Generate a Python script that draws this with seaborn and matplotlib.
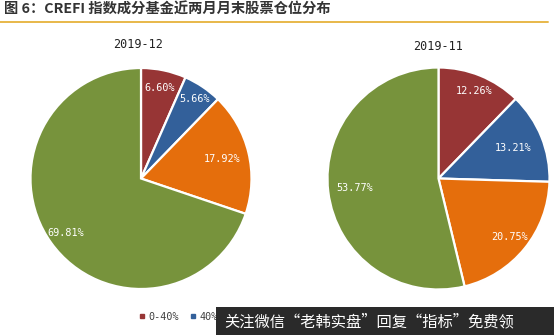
import numpy as np
import matplotlib
matplotlib.use("Agg")
import matplotlib.pyplot as plt
from matplotlib.patches import Rectangle
from matplotlib.lines import Line2D
import seaborn as sns

# Stock-position buckets and month-end fund shares (%)
buckets = ["0-40%", "40%-60%", "60%-80%", "80%-100%"]
months = ["2019-12", "2019-11"]
share_dec = [6.60, 5.66, 17.92, 69.81]
share_nov = [12.26, 13.21, 20.75, 53.77]
title = "图 6：CREFI 指数成分基金近两月月末股票仓位分布"
banner = "关注微信“老韩实盘”回复“指标”免费领"

sns.set_theme(style="white")
plt.rcParams["font.family"] = ["DejaVu Sans Mono", "Noto Sans CJK SC"]

palette = sns.color_palette(["#973535", "#33609A", "#E56E0C", "#77933C"])

W, H = 554, 335
fig = plt.figure(figsize=(W / 100, H / 100), dpi=100)
fig.patch.set_facecolor("white")


def px_axes(cx, cy, r):
    return fig.add_axes([(cx - r) / W, (H - cy - r) / H, 2 * r / W, 2 * r / H])


def draw_pie(ax, values, radii):
    wedges, _ = ax.pie(values, colors=palette, startangle=90, counterclock=False,
                       wedgeprops=dict(edgecolor="white", linewidth=1.6))
    for w, v, rr in zip(wedges, values, radii):
        ang = np.deg2rad((w.theta1 + w.theta2) / 2)
        ax.text(rr * np.cos(ang), rr * np.sin(ang), f"{v:.2f}%",
                ha="center", va="center", color="white", fontsize=7.3)
    ax.set_xlim(-1, 1)
    ax.set_ylim(-1, 1)
    ax.set_axis_off()


ax1 = px_axes(141, 178.5, 110.5)
draw_pie(ax1, share_dec, [0.84, 0.87, 0.76, 0.84])
ax2 = px_axes(438.5, 178.5, 111)
draw_pie(ax2, share_nov, [0.85, 0.73, 0.83, 0.76])

fig.text(138 / W, 1 - 45 / H, months[0], ha="center", va="center",
         fontsize=8.5, color="#222222")
fig.text(438 / W, 1 - 46 / H, months[1], ha="center", va="center",
         fontsize=8.5, color="#222222")

# Header and rule
fig.text(4 / W, 1 - 10 / H, title, ha="left", va="center", fontsize=10.3,
         fontweight="bold", color="#333333",
         family=["Noto Sans CJK SC", "DejaVu Sans"])
fig.add_artist(Line2D([0, 548 / W], [1 - 22 / H, 1 - 22 / H],
                      transform=fig.transFigure, color="#E8B84A", lw=1.4))

# Legend
handles = [Line2D([], [], marker="s", ls="", markersize=3, color=c) for c in palette]
fig.legend(handles, buckets, loc="center left", bbox_to_anchor=(130 / W, 1 - 317 / H),
           ncol=4, frameon=False, fontsize=7.3, handlelength=0.6, handletextpad=0.3,
           columnspacing=1.1, labelcolor="#404040")

# Banner overlay
fig.add_artist(Rectangle((216 / W, 0), 1 - 216 / W, 28 / H, transform=fig.transFigure,
                         facecolor="#2A2A2A", edgecolor="none", zorder=10))
fig.text(224 / W, 1 - 322 / H, banner, ha="left", va="center", fontsize=11,
         color="white", zorder=11, family=["Noto Sans CJK SC", "DejaVu Sans"])

fig.savefig("out.png", dpi=100)
